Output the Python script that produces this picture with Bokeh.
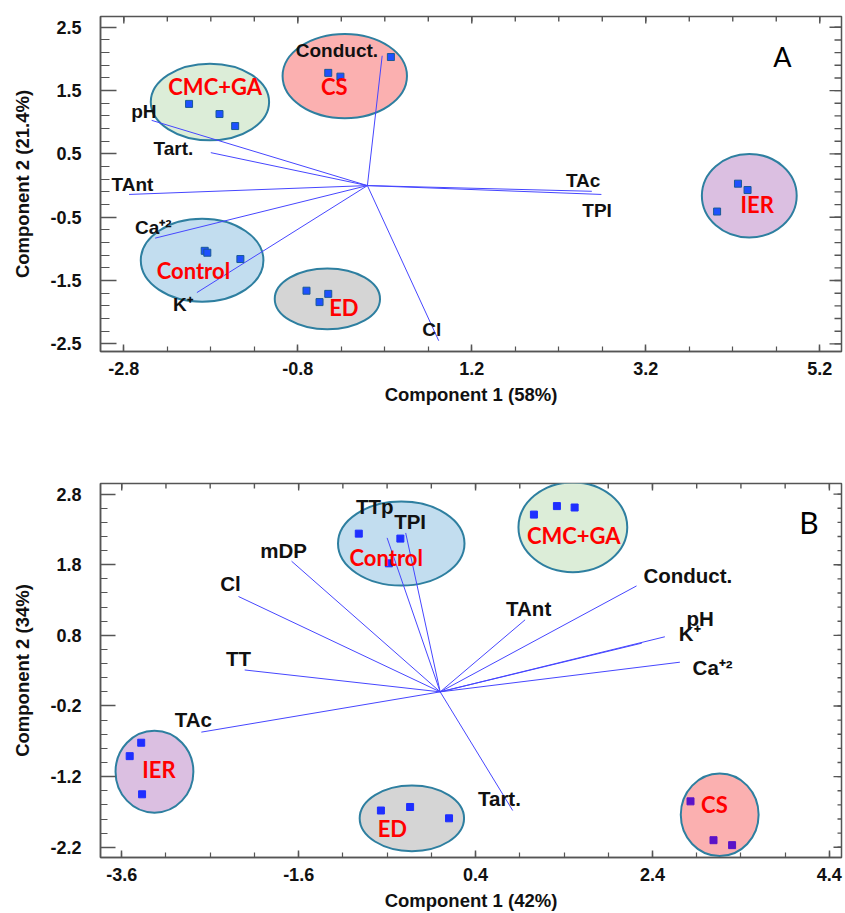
from bokeh.plotting import figure
from bokeh.models import Range1d, FixedTicker
from bokeh.layouts import column
from bokeh.core.properties import value
from bokeh.embed import file_html
from bokeh.resources import INLINE
import numpy as np

# ---------------- Panel A data ----------------
A_XTICKS = [-2.8, -0.8, 1.2, 3.2, 5.2]
A_YTICKS = [2.5, 1.5, 0.5, -0.5, -1.5, -2.5]
A_XLABEL = "Component 1 (58%)"
A_YLABEL = "Component 2 (21.4%)"

A_group_names = ["CMC+GA", "CS", "Control", "ED", "IER"]
A_group_fill = ["#dcedd8", "#fbb0b0", "#c2ddef", "#d5d5d5", "#dbbfe1"]
A_ell_x = [-1.81, -0.26, -1.90, -0.46, 4.39]
A_ell_y = [1.32, 1.73, -1.18, -1.79, -0.16]
A_ell_w = [1.36, 1.43, 1.41, 1.21, 1.09]
A_ell_h = [1.21, 1.33, 1.31, 0.96, 1.32]
A_glabel_x = [-1.75, -0.38, -2.00, -0.27, 4.48]
A_glabel_y = [1.56, 1.56, -1.34, -1.92, -0.30]

A_pts_x = [-2.05, -1.70, -1.52, -0.45, -0.31, 0.27, -1.87, -1.84, -1.46,
           -0.70, -0.55, -0.45, 4.26, 4.37, 4.02]
A_pts_y = [1.29, 1.13, 0.94, 1.78, 1.72, 2.03, -1.03, -1.06, -1.16,
           -1.66, -1.84, -1.71, 0.03, -0.07, -0.41]

A_var_names = ["pH", "Tart.", "TAnt", "Ca\u207a\u00b2", "K\u207a", "Conduct.", "Cl", "TAc", "TPI"]
A_var_x = [-2.48, -1.80, -2.74, -2.44, -1.96, 0.17, 0.82, 2.58, 2.69]
A_var_y = [1.03, 0.52, -0.14, -0.83, -1.69, 2.05, -2.45, -0.09, -0.14]
A_vlab_x = [-2.57, -2.23, -2.70, -2.46, -2.12, -0.35, 0.74, 2.48, 2.64]
A_vlab_y = [1.17, 0.58, 0.02, -0.66, -1.88, 2.13, -2.28, 0.08, -0.39]

# ---------------- Panel B data ----------------
B_XTICKS = [-3.6, -1.6, 0.4, 2.4, 4.4]
B_YTICKS = [2.8, 1.8, 0.8, -0.2, -1.2, -2.2]
B_XLABEL = "Component 1 (42%)"
B_YLABEL = "Component 2 (34%)"

B_group_names = ["Control", "CMC+GA", "IER", "ED", "CS"]
B_group_fill = ["#c2ddef", "#dcedd8", "#dbbfe1", "#d5d5d5", "#fbb0b0"]
B_ell_x = [-0.44, 1.50, -3.23, -0.32, 3.16]
B_ell_y = [2.10, 2.33, -1.13, -1.79, -1.74]
B_ell_w = [1.43, 1.23, 0.88, 1.18, 0.88]
B_ell_h = [1.19, 1.27, 1.16, 0.93, 1.17]
B_glabel_x = [-0.61, 1.51, -3.18, -0.54, 3.10]
B_glabel_y = [1.90, 2.21, -1.10, -1.93, -1.60]

B_pts_x = [-0.92, -0.45, -0.58, 1.06, 1.32, 1.52, -3.38, -3.51, -3.37,
           -0.67, -0.34, 0.10]
B_pts_y = [2.24, 2.17, 1.82, 2.51, 2.63, 2.61, -0.72, -0.91, -1.45,
           -1.68, -1.63, -1.79]
B_cs_x = [2.83, 3.09, 3.30]
B_cs_y = [-1.55, -2.10, -2.17]

B_var_names = ["TTp", "TPI", "mDP", "Cl", "TT", "TAc", "Conduct.", "TAnt",
               "pH", "K\u207a", "Ca\u207a\u00b2", "Tart."]
B_var_x = [-0.60, -0.39, -1.68, -2.28, -2.21, -2.70, 2.22, 0.96, 2.54, 2.28, 2.71, 0.82]
B_var_y = [2.18, 2.25, 1.85, 1.35, 0.31, -0.57, 1.50, 1.02, 0.78, 0.69, 0.42, -1.68]
B_vlab_x = [-0.74, -0.34, -1.77, -2.37, -2.28, -2.79, 2.80, 1.00, 2.94, 2.82, 3.08, 0.67]
B_vlab_y = [2.63, 2.41, 2.00, 1.53, 0.47, -0.39, 1.65, 1.18, 1.04, 0.83, 0.35, -1.51]

AX_COLOR = "#555555"
VEC_COLOR = "#4646ff"
ELL_LINE = "#2e7fa0"
TICK_FONT = "Liberation Sans"
GROUP_FONT = "Lato"


def style_axis(ax, ticks, minor, tick_in, minor_in, standoff, label, label_standoff):
    ax.ticker = FixedTicker(ticks=ticks, minor_ticks=minor)
    ax.axis_line_color = AX_COLOR
    ax.axis_line_width = 1.5
    ax.major_tick_line_color = AX_COLOR
    ax.minor_tick_line_color = AX_COLOR
    ax.major_tick_line_width = 1.5
    ax.minor_tick_line_width = 1.2
    ax.major_tick_out = 0
    ax.minor_tick_out = 0
    ax.major_tick_in = tick_in
    ax.minor_tick_in = minor_in
    ax.major_label_overrides = {t: "%.1f" % t for t in ticks}
    ax.major_label_text_font = TICK_FONT
    ax.major_label_text_font_style = "bold"
    ax.major_label_text_font_size = "18px"
    ax.major_label_text_color = "#111111"
    ax.major_label_standoff = standoff
    ax.axis_label = label
    ax.axis_label_standoff = label_standoff
    ax.axis_label_text_font = TICK_FONT
    ax.axis_label_text_font_style = "bold"
    ax.axis_label_text_font_size = "18.5px"
    ax.axis_label_text_color = "#111111"


def make_panel(width, height, xr, yr, borders, xt, yt, xminor, yminor, xlabel, ylabel,
               ell, glabels, pts, extra_pts, vecs, vlabels, vfont, letter, letter_pos,
               letter_size, left_ticks, right_ticks, pt_line):
    p = figure(width=width, height=height, x_range=Range1d(*xr), y_range=Range1d(*yr),
               output_backend="svg", toolbar_location=None,
               min_border_left=borders[0], min_border_right=borders[1],
               min_border_top=borders[2], min_border_bottom=borders[3])
    p.grid.visible = False
    p.outline_line_color = AX_COLOR
    p.outline_line_width = 1.5
    p.background_fill_color = "white"
    p.border_fill_color = "white"

    style_axis(p.xaxis[0], xt, xminor, 7, 5, 10, xlabel, 6)
    style_axis(p.yaxis[0], yt, yminor, left_ticks[0], left_ticks[1], 19, ylabel, 14)

    # mirrored ticks on top and right edges (dash markers clipped by the frame)
    top_x = list(xt) + list(xminor)
    p.scatter(x=top_x, y=[yr[1]] * len(top_x), marker="dash",
              angle=np.pi / 2, size=[14] * len(xt) + [10] * len(xminor),
              line_color=AX_COLOR, line_width=1.4)
    right_y = list(yt) + list(yminor)
    p.scatter(x=[xr[1]] * len(right_y), y=right_y, marker="dash",
              size=[2 * right_ticks[0]] * len(yt) + [2 * right_ticks[1]] * len(yminor),
              line_color=AX_COLOR, line_width=1.4)

    ex, ey, ew, eh, fills = ell
    p.ellipse(x=ex, y=ey, width=ew, height=eh, fill_color=fills,
              line_color=ELL_LINE, line_width=2)

    vx, vy = vecs
    p.segment(x0=[0] * len(vx), y0=[0] * len(vx), x1=vx, y1=vy,
              line_color=VEC_COLOR, line_width=1)

    px, py, pcol = pts
    p.scatter(x=px, y=py, marker="square", size=7, fill_color=pcol,
              line_color=pt_line, line_width=1)
    if extra_pts is not None:
        qx, qy, qcol = extra_pts
        p.scatter(x=qx, y=qy, marker="square", size=7, fill_color=qcol,
                  line_color=qcol, line_width=1)

    lx, ly, names = vlabels
    p.text(x=lx, y=ly, text=names, text_font=value(TICK_FONT), text_font_style="bold",
           text_font_size=vfont, text_align="center", text_baseline="middle",
           text_color="#111111")

    gx, gy, gnames = glabels
    p.text(x=gx, y=gy, text=gnames, text_font=value(GROUP_FONT), text_font_style="bold",
           text_font_size="22px", text_align="center", text_baseline="middle",
           text_color="#ff0000")

    p.text(x=[letter_pos[0]], y=[letter_pos[1]], text=[letter], text_font=value(GROUP_FONT),
           text_font_size=letter_size, text_align="center", text_baseline="middle",
           text_color="#000000")
    return p


A_xminor = [float(v) for v in np.round(np.arange(-3.3, 5.5, 0.5), 2)]
A_yminor = [float(v) for v in np.round(np.arange(-2.5, 2.7, 0.2), 2)]
B_xminor = [float(v) for v in np.round(np.arange(-3.6, 4.6, 0.5), 2)]
B_yminor = [float(v) for v in np.round(np.arange(-2.2, 3.0, 0.2), 2)]

pA = make_panel(845, 440, (-3.068, 5.45), (-2.62, 2.67), (100, 4, 16, 89),
                A_XTICKS, A_YTICKS, A_xminor, A_yminor, A_XLABEL, A_YLABEL,
                (A_ell_x, A_ell_y, A_ell_w, A_ell_h, A_group_fill),
                (A_glabel_x, A_glabel_y, A_group_names),
                (A_pts_x, A_pts_y, "#1e50ff"), None,
                (A_var_x, A_var_y), (A_vlab_x, A_vlab_y, A_var_names), "19px",
                "A", (4.77, 2.04), "27px", (16, 9), (12, 7), "#1a5a96")

pB = make_panel(845, 473, (-3.84, 4.537), (-2.345, 2.95), (96, 0, 43, 54),
                B_XTICKS, B_YTICKS, B_xminor, B_yminor, B_XLABEL, B_YLABEL,
                (B_ell_x, B_ell_y, B_ell_w, B_ell_h, B_group_fill),
                (B_glabel_x, B_glabel_y, B_group_names),
                (B_pts_x, B_pts_y, "#1f2fff"), (B_cs_x, B_cs_y, "#5a13c8"),
                (B_var_x, B_var_y), (B_vlab_x, B_vlab_y, B_var_names), "20.5px",
                "B", (4.17, 2.41), "30px", (15, 7), (8, 4), "#1f2fff")

layout = column(pA, pB)
open("out.html", "w").write(file_html(layout, INLINE))
